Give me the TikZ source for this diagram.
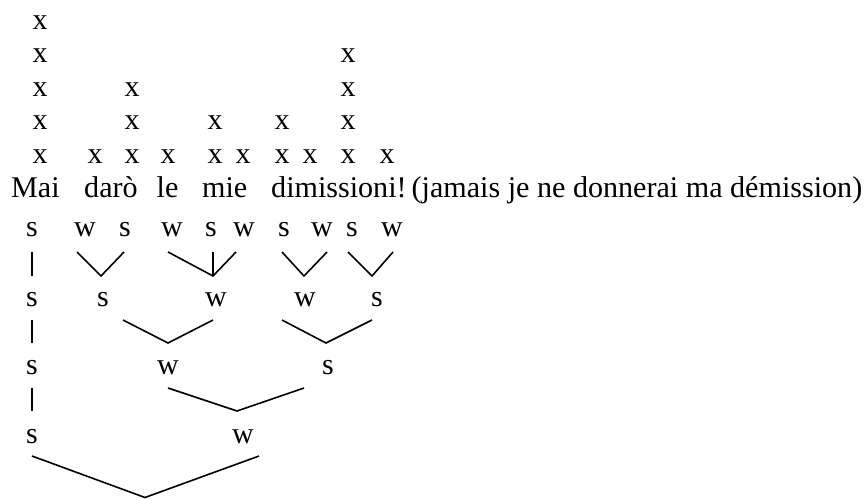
\documentclass[tikz,border=0pt]{standalone}
\usepackage{fontspec}
\setmainfont{Liberation Serif}
\begin{document}
\begin{tikzpicture}[x=1pt,y=-1pt,
  lbl/.style={anchor=base,inner sep=0pt,font=\fontsize{30}{32}\selectfont},
  word/.style={anchor=base west,inner sep=0pt,font=\fontsize{30.1}{32}\selectfont},
  edge/.style={line width=1.6pt,line cap=butt,line join=miter}]
\useasboundingbox (0,0) rectangle (864,499);
% grid of x marks
\foreach \c/\xx/\h in {1/40/5,2/95/1,3/132/3,4/168/1,5/215/2,6/243/1,7/282/2,8/310/1,9/348/4,10/387/1}{
  \foreach \r in {1,...,\h}{
    \node[lbl] (x\c-\r) at (\xx,{163-33.5*(\r-1)}) {x};
  }
}
% text line
\node[word] (w1) at (11,197) {Mai};
\node[word] (w2) at (84,197) {darò};
\node[word] (w3) at (156.5,197) {le};
\node[word] (w4) at (202,197) {mie};
\node[word] (w5) at (271,197) {dimissioni!};
\node[word] (w6) at (411.5,197) {(jamais je ne donnerai ma démission)};
% row 1
\node[lbl] (a1) at (32,236) {s};
\node[lbl] (a2) at (85,236) {w};
\node[lbl] (a3) at (125,236) {s};
\node[lbl] (a4) at (172,236) {w};
\node[lbl] (a5) at (211,236) {s};
\node[lbl] (a6) at (244,236) {w};
\node[lbl] (a7) at (284,236) {s};
\node[lbl] (a8) at (322,236) {w};
\node[lbl] (a9) at (352,236) {s};
\node[lbl] (a10) at (392,236) {w};
% row 2
\node[lbl] (b1) at (32,306) {s};
\node[lbl] (b2) at (103,306) {s};
\node[lbl] (b3) at (216,306) {w};
\node[lbl] (b4) at (305,306) {w};
\node[lbl] (b5) at (377,306) {s};
% row 3
\node[lbl] (c1) at (32,374) {s};
\node[lbl] (c2) at (168,374) {w};
\node[lbl] (c3) at (328,374) {s};
% row 4
\node[lbl] (d1) at (32,443) {s};
\node[lbl] (d2) at (243,443) {w};
% connector end points
\coordinate (ta1) at (32,252);
\coordinate (ta2) at (77,252);
\coordinate (ta3) at (124,252);
\coordinate (ta4) at (168,252);
\coordinate (ta5) at (213,252);
\coordinate (ta6) at (236,252);
\coordinate (ta7) at (282,252);
\coordinate (ta8) at (327,252);
\coordinate (ta9) at (348,252);
\coordinate (ta10) at (393,252);
\coordinate (pb1) at (32,276);
\coordinate (pb2) at (101,276);
\coordinate (pb3) at (213,276);
\coordinate (pb4) at (304,276);
\coordinate (pb5) at (372,276);
\coordinate (tb1) at (32,320);
\coordinate (tb2) at (123,320);
\coordinate (tb3) at (213,320);
\coordinate (tb4) at (282,320);
\coordinate (tb5) at (372,320);
\coordinate (pc1) at (32,343);
\coordinate (pc2) at (168,343);
\coordinate (pc3) at (326,343);
\coordinate (tc1) at (32,388);
\coordinate (tc2) at (168,388);
\coordinate (tc3) at (304,388);
\coordinate (pd1) at (32,411);
\coordinate (pd2) at (237,411);
\coordinate (td1) at (32,456);
\coordinate (td2) at (259,456);
\coordinate (root) at (145,497.5);
% connectors
\draw[edge] (ta1) -- (pb1);
\draw[edge] (ta2) -- (pb2) -- (ta3);
\draw[edge] (ta4) -- (pb3) -- (ta6);
\draw[edge] (ta5) -- (pb3);
\draw[edge] (ta7) -- (pb4) -- (ta8);
\draw[edge] (ta9) -- (pb5) -- (ta10);
\draw[edge] (tb1) -- (pc1);
\draw[edge] (tb2) -- (pc2) -- (tb3);
\draw[edge] (tb4) -- (pc3) -- (tb5);
\draw[edge] (tc1) -- (pd1);
\draw[edge] (tc2) -- (pd2) -- (tc3);
\draw[edge] (td1) -- (root) -- (td2);
\end{tikzpicture}
\end{document}
